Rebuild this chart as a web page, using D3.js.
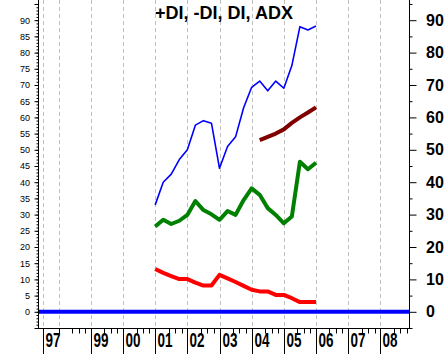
<!DOCTYPE html>
<html>
<head>
<meta charset="utf-8">
<script src="https://cdn.jsdelivr.net/npm/d3@7"></script>
<style>
  html, body { margin: 0; padding: 0; background: #fff; }
  svg { display: block; }
  text { font-family: "Liberation Sans", Arial, sans-serif; }
</style>
</head>
<body>
<svg id="chart" width="447" height="354"></svg>
<script>
// ---------- data ----------
const title = "+DI, -DI, DI, ADX";
const quarters = [2001.0, 2001.25, 2001.5, 2001.75, 2002.0, 2002.25, 2002.5, 2002.75,
                  2003.0, 2003.25, 2003.5, 2003.75, 2004.0, 2004.25, 2004.5, 2004.75,
                  2005.0, 2005.25, 2005.5, 2005.75, 2006.0];
const plusDI  = [33, 40, 42.5, 47, 50, 57.6, 59, 58.2, 44.3, 51, 54, 63, 69.3, 71.2, 68.2, 71.2, 69, 76, 88, 87, 88.2];
const minusDI = [13.2, 12, 11, 10.1, 10.1, 9, 8.1, 8.1, 11.4, 10.3, 9.2, 8, 6.8, 6.3, 6.3, 5.2, 5.2, 4.2, 3, 3, 3];
const diVals  = [26.3, 28.4, 27.1, 28.1, 29.9, 34.2, 31.4, 30.1, 28.4, 31.1, 29.9, 34.5, 38.1, 36.1, 32, 29.9, 27.3, 29.4, 46.3, 44, 46];
const adxVals = [null, null, null, null, null, null, null, null, null, null, null, null, null,
                 53, 54, 55, 56.3, 58.3, 60, 61.5, 63.1];
const yearTicks  = [1997.52, 1998, 1999, 2000, 2001, 2002, 2003, 2004, 2005, 2006, 2007, 2008];
const yearLabels = ["97", "", "99", "00", "01", "02", "03", "04", "05", "06", "07", "08"];
const leftLabels  = [0, 5, 10, 15, 20, 25, 30, 35, 40, 45, 50, 55, 60, 65, 70, 75, 80, 85, 90];
const rightLabels = [0, 10, 20, 30, 40, 50, 60, 70, 80, 90];
const zeroLine = 0;

// ---------- layout ----------
const svg = d3.select("#chart");
const L = 38, R = 409, T = 0, B = 328.5;

const x = d3.scaleLinear().domain([1998, 2008]).range([58.7, 380.3]);
const y = d3.scaleLinear().domain([-5, 95]).range([328, 4]);

// vertical dashed grid lines
svg.append("g").selectAll("line").data(yearTicks).join("line")
  .attr("x1", d => Math.round(x(d)) + 0.5).attr("x2", d => Math.round(x(d)) + 0.5)
  .attr("y1", T).attr("y2", B)
  .attr("stroke", "#c0c0c0").attr("stroke-width", 1)
  .attr("stroke-dasharray", "4,3");

// zero line
svg.append("line")
  .attr("x1", L).attr("x2", R)
  .attr("y1", y(zeroLine)).attr("y2", y(zeroLine))
  .attr("stroke", "#0000ff").attr("stroke-width", 4);

// series
function drawLine(vals, color, width) {
  const line = d3.line()
    .defined((d, i) => vals[i] != null)
    .x((d, i) => x(quarters[i]))
    .y((d, i) => y(vals[i]));
  svg.append("path").datum(vals)
    .attr("d", line)
    .attr("fill", "none")
    .attr("stroke", color)
    .attr("stroke-width", width)
    .attr("stroke-linejoin", "round")
    .attr("stroke-linecap", "butt");
}
drawLine(plusDI, "#0000ff", 1.6);
drawLine(diVals, "#008000", 4);
drawLine(minusDI, "#ff0000", 4);
drawLine(adxVals, "#800000", 4);

// left axis
const leftMinor = d3.range(-5, 96, 1);
const leftMajor = d3.range(-5, 96, 5);
svg.append("g").attr("transform", `translate(${L + 0.5},0)`)
  .call(d3.axisLeft(y).tickValues(leftMinor).tickSize(2).tickFormat("").tickSizeOuter(0))
  .call(g => g.select(".domain").remove());
svg.append("g").attr("transform", `translate(${L + 0.5},0)`)
  .call(d3.axisLeft(y).tickValues(leftMajor).tickSize(4).tickSizeOuter(0)
    .tickFormat(d => leftLabels.includes(d) ? d : ""))
  .call(g => g.select(".domain").remove())
  .call(g => g.selectAll("text").attr("font-size", 9).attr("x", -8.5)
    .attr("font-family", "'Liberation Sans', Arial, sans-serif").attr("fill", "#000"));
svg.append("line").attr("x1", L + 0.5).attr("x2", L + 0.5).attr("y1", T).attr("y2", B + 0.5)
  .attr("stroke", "#000");

// right axis
svg.append("g").attr("transform", `translate(${R + 0.5},0)`)
  .call(d3.axisRight(y).tickValues(d3.range(-5, 96, 10)).tickSize(3).tickFormat("").tickSizeOuter(0))
  .call(g => g.select(".domain").remove());
svg.append("g").attr("transform", `translate(${R + 0.5},0)`)
  .call(d3.axisRight(y).tickValues(rightLabels).tickSize(7).tickSizeOuter(0))
  .call(g => g.select(".domain").remove())
  .call(g => g.selectAll("text").attr("font-size", 16).attr("font-weight", "bold").attr("x", 16.5)
    .attr("font-family", "'Liberation Sans', Arial, sans-serif").attr("fill", "#000"));
svg.append("line").attr("x1", R + 0.5).attr("x2", R + 0.5).attr("y1", T).attr("y2", B + 0.5)
  .attr("stroke", "#000");

// bottom axis
svg.append("line").attr("x1", L).attr("x2", R + 1).attr("y1", B).attr("y2", B).attr("stroke", "#000");
const minorOffsets = [0.42, 0.62, 0.82];
const minorTicks = [];
yearTicks.slice(1).forEach(t => minorOffsets.forEach(o => minorTicks.push(t + o)));
minorTicks.push(1998);
svg.append("g").selectAll("line").data(minorTicks).join("line")
  .attr("x1", d => Math.round(x(d)) + 0.5).attr("x2", d => Math.round(x(d)) + 0.5)
  .attr("y1", B).attr("y2", B + 5).attr("stroke", "#000");
const majorYears = yearTicks.filter((t, i) => yearLabels[i] !== "");
svg.append("g").selectAll("line").data(majorYears).join("line")
  .attr("x1", d => Math.round(x(d)) + 0.5).attr("x2", d => Math.round(x(d)) + 0.5)
  .attr("y1", B).attr("y2", 354).attr("stroke", "#000");
svg.append("g").selectAll("text").data(yearTicks.map((t, i) => ({t, label: yearLabels[i]})).filter(d => d.label !== ""))
  .join("text")
  .attr("x", d => Math.round(x(d.t)) + 2.5)
  .attr("y", 347)
  .attr("font-size", 20).attr("font-weight", "bold")
  .attr("textLength", 15).attr("lengthAdjust", "spacingAndGlyphs")
  .text(d => d.label);

// title
svg.append("text")
  .attr("x", 224).attr("y", 18.5)
  .attr("text-anchor", "middle")
  .attr("font-size", 18).attr("font-weight", "bold")
  .text(title);
</script>
</body>
</html>
